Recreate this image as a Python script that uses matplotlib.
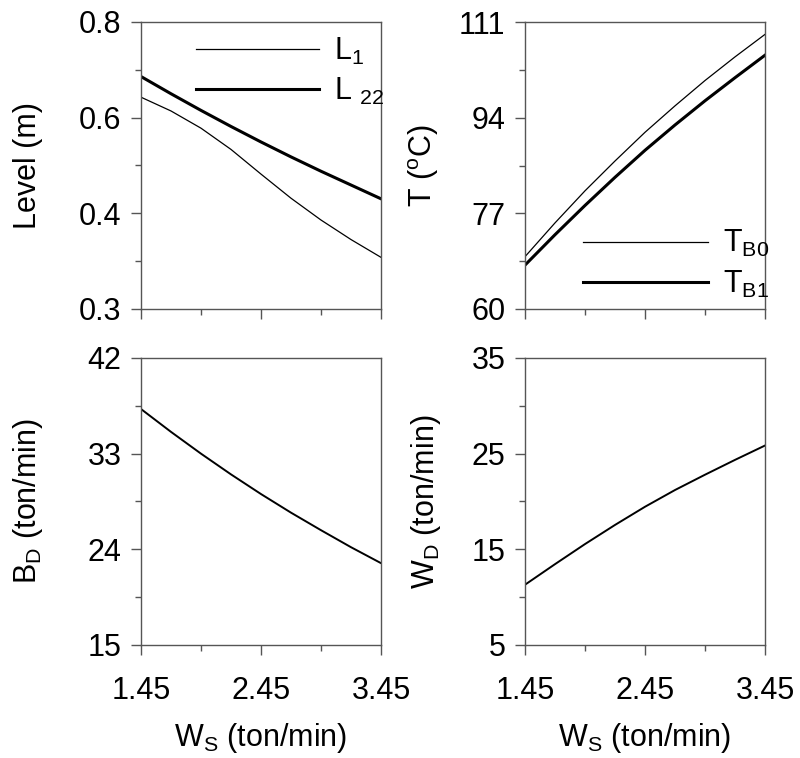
import numpy as np
import matplotlib.pyplot as plt
from matplotlib.ticker import FixedLocator

plt.rcParams['font.family'] = 'Liberation Sans'
plt.rcParams['mathtext.fontset'] = 'custom'
plt.rcParams['mathtext.rm'] = 'Liberation Sans'
plt.rcParams['mathtext.it'] = 'Liberation Sans:italic'
plt.rcParams['mathtext.default'] = 'regular'

# steam flow W_S (ton/min)
ws = [1.45, 1.70, 1.95, 2.20, 2.45, 2.70, 2.95, 3.20, 3.45]

# levels (m)
level_l1 = [0.669, 0.645, 0.615, 0.578, 0.535, 0.493, 0.455, 0.421, 0.390]
level_l22 = [0.705, 0.675, 0.646, 0.618, 0.591, 0.565, 0.540, 0.516, 0.492]

# temperatures (oC)
t_b0 = [69.3, 75.3, 81.0, 86.3, 91.4, 96.1, 100.6, 104.8, 108.8]
t_b1 = [67.8, 73.2, 78.4, 83.4, 88.2, 92.7, 97.0, 101.1, 105.1]

# flows (ton/min)
b_d = [37.2, 35.05, 33.0, 31.05, 29.2, 27.45, 25.8, 24.2, 22.7]
w_d = [11.3, 13.45, 15.55, 17.55, 19.45, 21.2, 22.8, 24.35, 25.85]

x_ticks = [1.45, 2.45, 3.45]
x_minor = [1.95, 2.95]
level_ticklabels = ['0.3', '0.4', '0.6', '0.8']
t_ticks = [60, 77, 94, 111]
bd_ticks = [15, 24, 33, 42]
wd_ticks = [5, 15, 25, 35]

FS = 22
SPINE = '#555555'

fig = plt.figure(figsize=(8, 7.58), dpi=100)
W, H = 800, 758


def make_axes(x0, y0, x1, y1):
    return fig.add_axes([x0 / W, 1 - y1 / H, (x1 - x0) / W, (y1 - y0) / H])


def style(ax, yticks, ylabels, xlabels=True):
    ax.set_xlim(1.45, 3.45)
    ax.set_ylim(yticks[0], yticks[-1])
    ax.xaxis.set_major_locator(FixedLocator(x_ticks))
    ax.xaxis.set_minor_locator(FixedLocator(x_minor))
    ax.yaxis.set_major_locator(FixedLocator(yticks))
    mids = [(a + b) / 2 for a, b in zip(yticks[:-1], yticks[1:])]
    ax.yaxis.set_minor_locator(FixedLocator(mids))
    ax.set_yticklabels(ylabels)
    if xlabels:
        ax.set_xticklabels([f'{v:.2f}' for v in x_ticks])
    else:
        ax.set_xticklabels([])
    for s in ax.spines.values():
        s.set_color(SPINE)
        s.set_linewidth(1.0)
    ax.tick_params(axis='both', which='major', direction='out', length=7,
                   width=1.0, color=SPINE, labelsize=FS)
    ax.tick_params(axis='both', which='minor', direction='out', length=4,
                   width=1.0, color=SPINE)
    ax.tick_params(axis='y', which='major', pad=7)
    ax.tick_params(axis='x', which='major', pad=15)


# level
ax1 = make_axes(141, 22, 381, 309)
ax1.plot(ws, level_l1, color='black', lw=0.9, label='L$_1$')
ax1.plot(ws, level_l22, color='black', lw=2.2, label='L $_{22}$')
style(ax1, list(np.linspace(0.3, 0.8, 4)), level_ticklabels, xlabels=False)
ax1.set_ylabel('Level (m)', fontsize=FS)
ax1.yaxis.set_label_coords(-0.41, 0.5)
ax1.legend(loc='upper left', bbox_to_anchor=(0.18, 0.995), frameon=False,
           fontsize=FS, handlelength=4.0, handletextpad=0.5, labelspacing=0.3,
           borderaxespad=0)

# temperature
ax2 = make_axes(525, 22, 765, 309)
ax2.plot(ws, t_b0, color='black', lw=0.9, label='T$_{B0}$')
ax2.plot(ws, t_b1, color='black', lw=2.2, label='T$_{B1}$')
style(ax2, t_ticks, [str(v) for v in t_ticks], xlabels=False)
ax2.set_ylabel('T ($^{o}$C)', fontsize=FS)
ax2.yaxis.set_label_coords(-0.35, 0.5)
ax2.legend(loc='lower left', bbox_to_anchor=(0.19, -0.01), frameon=False,
           fontsize=FS, handlelength=4.1, handletextpad=0.5, labelspacing=0.3,
           borderaxespad=0)

# bottoms flow
ax3 = make_axes(141, 358, 381, 645)
ax3.plot(ws, b_d, color='black', lw=1.4)
style(ax3, bd_ticks, [str(v) for v in bd_ticks])
ax3.set_ylabel('B$_D$ (ton/min)', fontsize=FS)
ax3.yaxis.set_label_coords(-0.40, 0.5)
ax3.set_xlabel('W$_S$ (ton/min)', fontsize=FS, labelpad=11)

# distillate flow
ax4 = make_axes(525, 358, 765, 645)
ax4.plot(ws, w_d, color='black', lw=1.4)
style(ax4, wd_ticks, [str(v) for v in wd_ticks])
ax4.set_ylabel('W$_D$ (ton/min)', fontsize=FS)
ax4.yaxis.set_label_coords(-0.34, 0.5)
ax4.set_xlabel('W$_S$ (ton/min)', fontsize=FS, labelpad=11)

fig.savefig('out.png', dpi=100)
